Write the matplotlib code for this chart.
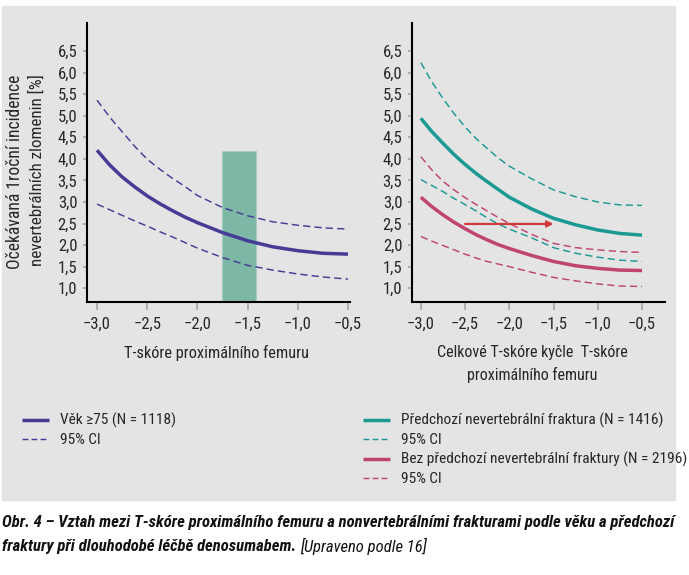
import matplotlib
matplotlib.use("Agg")
import matplotlib.pyplot as plt
from matplotlib import font_manager
from matplotlib.patches import Rectangle
from matplotlib.ticker import FuncFormatter

# úzké písmo, pokud je k dispozici
fonts = font_manager.fontManager.ttflist
names = {f.name for f in fonts}
font, stretch = 'DejaVu Sans', 'normal'
for p in ['Liberation Sans Narrow', 'Roboto Condensed', 'Open Sans Condensed',
          'Noto Sans Condensed', 'DejaVu Sans Condensed']:
    if p in names:
        font = p
        break
else:
    for fam in ['Noto Sans', 'Roboto', 'Open Sans', 'DejaVu Sans', 'Liberation Sans']:
        st = [f.stretch for f in fonts if f.name == fam
              and f.stretch in ('condensed', 'semi-condensed')]
        if st:
            font, stretch = fam, st[0]
            break
plt.rcParams['font.family'] = [font, 'DejaVu Sans']
plt.rcParams['font.stretch'] = stretch

# T-skóre (osa x)
tscore = [-3.0, -2.875, -2.75, -2.625, -2.5, -2.375, -2.25, -2.125, -2.0,
          -1.75, -1.5, -1.25, -1.0, -0.75, -0.5]

# levý graf: věk >= 75
age_mean = [4.20, 3.86, 3.58, 3.35, 3.14, 2.96, 2.80, 2.65, 2.52,
            2.29, 2.10, 1.96, 1.87, 1.81, 1.79]
age_hi = [5.36, 4.97, 4.63, 4.29, 3.99, 3.76, 3.55, 3.36, 3.15,
          2.87, 2.68, 2.54, 2.46, 2.40, 2.37]
age_lo = [2.95, 2.82, 2.69, 2.56, 2.44, 2.31, 2.19, 2.06, 1.93,
          1.71, 1.53, 1.42, 1.33, 1.26, 1.21]
band_x = [-1.76, -1.42]
band_top = 4.18

# pravý graf: předchozí fraktura / bez předchozí fraktury
prev_mean = [4.94, 4.63, 4.36, 4.10, 3.87, 3.66, 3.47, 3.29, 3.11,
             2.84, 2.62, 2.47, 2.35, 2.27, 2.23]
prev_hi = [6.23, 5.78, 5.40, 5.05, 4.74, 4.47, 4.24, 4.02, 3.83,
           3.54, 3.28, 3.12, 3.00, 2.93, 2.92]
prev_lo = [3.52, 3.38, 3.24, 3.08, 2.94, 2.79, 2.63, 2.49, 2.37,
           2.17, 1.94, 1.81, 1.72, 1.65, 1.62]
none_mean = [3.11, 2.89, 2.70, 2.53, 2.38, 2.24, 2.12, 2.01, 1.92,
             1.76, 1.62, 1.52, 1.46, 1.42, 1.41]
none_hi = [4.05, 3.74, 3.48, 3.28, 3.10, 2.94, 2.79, 2.64, 2.50,
           2.25, 2.04, 1.94, 1.89, 1.85, 1.83]
none_lo = [2.20, 2.09, 1.99, 1.89, 1.79, 1.70, 1.62, 1.56, 1.50,
           1.37, 1.25, 1.17, 1.10, 1.05, 1.04]
arrow_from, arrow_to, arrow_y = -2.5, -1.5, 2.49

yticks = [1.0, 1.5, 2.0, 2.5, 3.0, 3.5, 4.0, 4.5, 5.0, 5.5, 6.0, 6.5]
xticks = [-3.0, -2.5, -2.0, -1.5, -1.0, -0.5]

PURPLE = '#463c96'
TEAL = '#1b9a93'
PINK = '#c04470'
DASH = (0, (5, 2.8))
TXT = '#262626'

W, H = 689, 575
fig = plt.figure(figsize=(W / 100, H / 100), dpi=100)
fig.patches.append(Rectangle((2 / W, 1 - 500 / H), 673 / W, 494 / H,
                             transform=fig.transFigure, color='#e4e4e4', zorder=-1))
r = fig.canvas.get_renderer()


def fit(t, w):
    bb = t.get_window_extent(r)
    cur = bb.height if t.get_rotation() == 90 else bb.width
    t.set_fontsize(t.get_fontsize() * w / cur)
    return t


def size_for(s, w, **kw):
    t = fig.text(0, 0, s, fontsize=10, **kw)
    fs = 10 * w / t.get_window_extent(r).width
    t.remove()
    return fs


fs_tick = size_for('\u22123,0', 28)
fs_leg = size_for('Věk \u226575 (N = 1118)', 115)

fmt = FuncFormatter(lambda v, p: f'{v:.1f}'.replace('.', ',').replace('-', '\u2212'))

ax1 = fig.add_axes([87 / W, 1 - 302 / H, 263 / W, 279 / H])
ax2 = fig.add_axes([412 / W, 1 - 302 / H, 253 / W, 279 / H])
for ax in (ax1, ax2):
    ax.set_facecolor('none')
    ax.set_ylim(0.68, 7.15)
    ax.set_yticks(yticks)
    ax.set_xticks(xticks)
    ax.xaxis.set_major_formatter(fmt)
    ax.yaxis.set_major_formatter(fmt)
    for s in ('top', 'right'):
        ax.spines[s].set_visible(False)
    for s in ('left', 'bottom'):
        ax.spines[s].set_linewidth(1.5)
    ax.tick_params(axis='y', length=3, width=1.1, color='#a0a0a0', pad=4,
                   labelsize=fs_tick, labelcolor=TXT)
    ax.tick_params(axis='x', length=6, width=1.1, color='#a0a0a0', pad=5,
                   labelsize=fs_tick, labelcolor=TXT)
ax1.set_xlim(-3.1, -0.48)
ax2.set_xlim(-3.1, -0.24)

solid = dict(lw=2.5, solid_capstyle='butt', zorder=3)
dash = dict(lw=1.05, ls=DASH, zorder=3)

# levý graf
ymin = ax1.get_ylim()[0]
ax1.bar(band_x[0], band_top - ymin, width=band_x[1] - band_x[0], bottom=ymin,
        align='edge', color='#7db8a7', edgecolor='#a5cdc1', linewidth=0.8, zorder=1)
l1, = ax1.plot(tscore, age_mean, color=PURPLE, **solid)
l2, = ax1.plot(tscore, age_hi, color=PURPLE, **dash)
ax1.plot(tscore, age_lo, color=PURPLE, **dash)

# pravý graf
p1, = ax2.plot(tscore, prev_mean, color=TEAL, **solid)
p2, = ax2.plot(tscore, prev_hi, color=TEAL, **dash)
ax2.plot(tscore, prev_lo, color=TEAL, **dash)
n1, = ax2.plot(tscore, none_mean, color=PINK, **solid)
n2, = ax2.plot(tscore, none_hi, color=PINK, **dash)
ax2.plot(tscore, none_lo, color=PINK, **dash)
ax2.annotate('', xy=(arrow_to, arrow_y), xytext=(arrow_from, arrow_y),
             arrowprops=dict(arrowstyle='-|>', color='#d03a3a', lw=1.6,
                             mutation_scale=9, shrinkA=0, shrinkB=0), zorder=4)

# popisky os
fit(fig.text(15 / W, 1 - 172 / H, 'Očekávaná 1roční incidence', rotation=90,
             ha='center', va='center', color=TXT), 193)
fit(fig.text(37 / W, 1 - 170 / H, 'nevertebrálních zlomenin [%]', rotation=90,
             ha='center', va='center', color=TXT), 190)
fit(fig.text(217 / W, 1 - 353 / H, 'T-skóre proximálního femuru',
             ha='center', va='center', color=TXT), 186)
t = fit(fig.text(532 / W, 1 - 353 / H, 'Celkové T-skóre kyčle  T-skóre',
                 ha='center', va='center', color=TXT), 190)
fig.text(532 / W, 1 - 375 / H, 'proximálního femuru', ha='center', va='center',
         color=TXT, fontsize=t.get_fontsize())

# legendy
leg_kw = dict(loc='upper left', frameon=False, fontsize=fs_leg, borderpad=0,
              borderaxespad=0, handlelength=1.75, handletextpad=0.75,
              labelspacing=0.32, bbox_transform=fig.transFigure)
lg1 = fig.legend([l1, l2], ['Věk \u226575 (N = 1118)', '95% CI'],
                 bbox_to_anchor=(22 / W, 1 - 413 / H), **leg_kw)
lg2 = fig.legend([p1, p2, n1, n2],
                 ['Předchozí nevertebrální fraktura (N = 1416)', '95% CI',
                  'Bez předchozí nevertebrální fraktury (N = 2196)', '95% CI'],
                 bbox_to_anchor=(363 / W, 1 - 413 / H), **leg_kw)
for lg in (lg1, lg2):
    for tx in lg.get_texts():
        tx.set_color(TXT)
    for ln in lg.get_lines():
        if ln.get_linestyle() != '-':
            ln.set_linestyle((0, (4, 2.2)))

# titulek obrázku
c1 = fit(fig.text(2 / W, 1 - 523 / H,
                  'Obr. 4 \u2013 Vztah mezi T-skóre proximálního femuru a nonvertebrálními '
                  'frakturami podle věku a předchozí',
                  ha='left', va='center', style='italic', weight='bold',
                  color='#111111'), 673)
c2 = fig.text(2 / W, 1 - 546 / H, 'fraktury při dlouhodobé léčbě denosumabem. ',
              ha='left', va='center', style='italic', weight='bold',
              color='#111111', fontsize=c1.get_fontsize())
x2 = c2.get_window_extent(r).x1
fig.text(x2 / W, 1 - 546 / H, '[Upraveno podle 16]', ha='left', va='center',
         style='italic', color='#111111', fontsize=c1.get_fontsize())

fig.savefig('out.png', dpi=100)
